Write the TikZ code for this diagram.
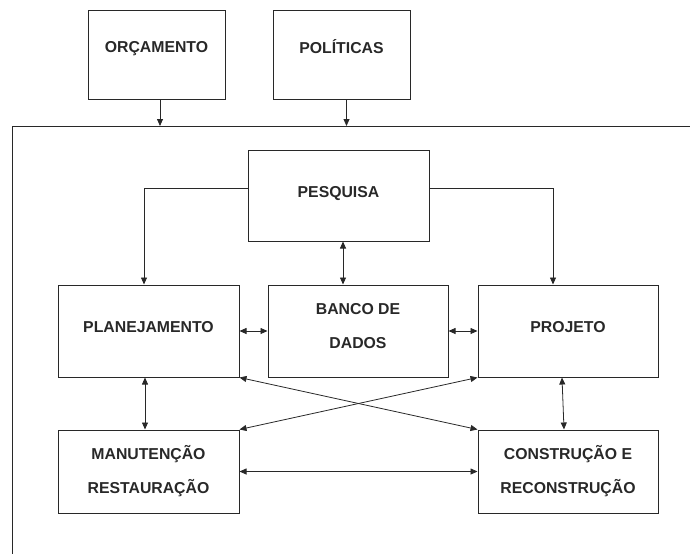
\documentclass[tikz,border=0pt]{standalone}
\usepackage{fontspec}
\setmainfont{Liberation Sans}
\usepackage{tikz}
\usetikzlibrary{arrows.meta, positioning, calc}
\usepackage{xcolor}
\definecolor{ink}{RGB}{40,40,40}

\begin{document}
\begin{tikzpicture}[x=1pt, y=-1pt,
  block/.style={draw=ink, line width=1pt, text=ink, align=center,
    font=\fontsize{15.8}{34}\selectfont\bfseries, inner sep=0pt},
  lift/.style={text depth=#1},
  link/.style={draw=ink, line width=0.8pt, -{Triangle[length=7pt,width=6pt]}},
  both/.style={link, {Triangle[length=7pt,width=6pt]}-{Triangle[length=7pt,width=6pt]}}]
  \useasboundingbox (0,0) rectangle (690,554);
  % inputs on top
  \node[block, lift=16pt, minimum width=137pt, minimum height=89pt] (orc) at (156.5,54.5) {ORÇAMENTO};
  \node[block, lift=16pt, minimum width=137pt, minimum height=89pt] (pol) at (341.5,54.5) {POLÍTICAS};
  % open frame
  \coordinate (frmr) at (690,126);
  \coordinate (frmc) at (12,126);
  \coordinate (frmb) at (12,554);
  \draw[ink, line width=1pt] (frmr) -- (frmc) -- (frmb);
  \coordinate (inorc) at (160,126);
  \coordinate (inpol) at (346.5,126);
  \draw[link] (orc.south -| inorc) -- (inorc);
  \draw[link] (pol.south -| inpol) -- (inpol);
  % inner boxes
  \node[block, lift=7pt, minimum width=181pt, minimum height=91pt] (pesq) at (338.5,195.5) {PESQUISA};
  \node[block, lift=8pt, minimum width=181pt, minimum height=92pt] (plan) at (148.5,331) {PLANEJAMENTO};
  \node[block, lift=10pt, minimum width=180pt, minimum height=92pt] (banco) at (358,331) {BANCO DE\\DADOS};
  \node[block, lift=8pt, minimum width=180pt, minimum height=92pt] (proj) at (568,331) {PROJETO};
  \node[block, lift=4pt, minimum width=181pt, minimum height=83pt] (manut) at (148.5,471.5) {MANUTENÇÃO\\RESTAURAÇÃO};
  \node[block, lift=4pt, minimum width=180pt, minimum height=83pt] (constr) at (568,471.5) {CONSTRUÇÃO E\\RECONSTRUÇÃO};
  % research feeds planning and design
  \draw[link] ([yshift=7.5pt]pesq.west) -| ([xshift=-4.5pt]plan.north);
  \draw[link] ([yshift=7.5pt]pesq.east) -| ([xshift=-15pt]proj.north);
  \draw[both] ([xshift=-15pt]banco.north) -- ([xshift=-15pt]banco.north |- pesq.south);
  % exchanges
  \draw[both] (plan.east) -- (banco.west);
  \draw[both] (banco.east) -- (proj.west);
  \draw[both] ([xshift=-3.5pt]plan.south) -- ([xshift=-3.5pt]manut.north);
  \draw[both] ([xshift=-6pt]proj.south) -- ([xshift=-4pt]constr.north);
  \draw[both] (plan.south east) -- (constr.north west);
  \draw[both] (manut.north east) -- (proj.south west);
  \draw[both] (manut.east) -- (constr.west);
\end{tikzpicture}
\end{document}
